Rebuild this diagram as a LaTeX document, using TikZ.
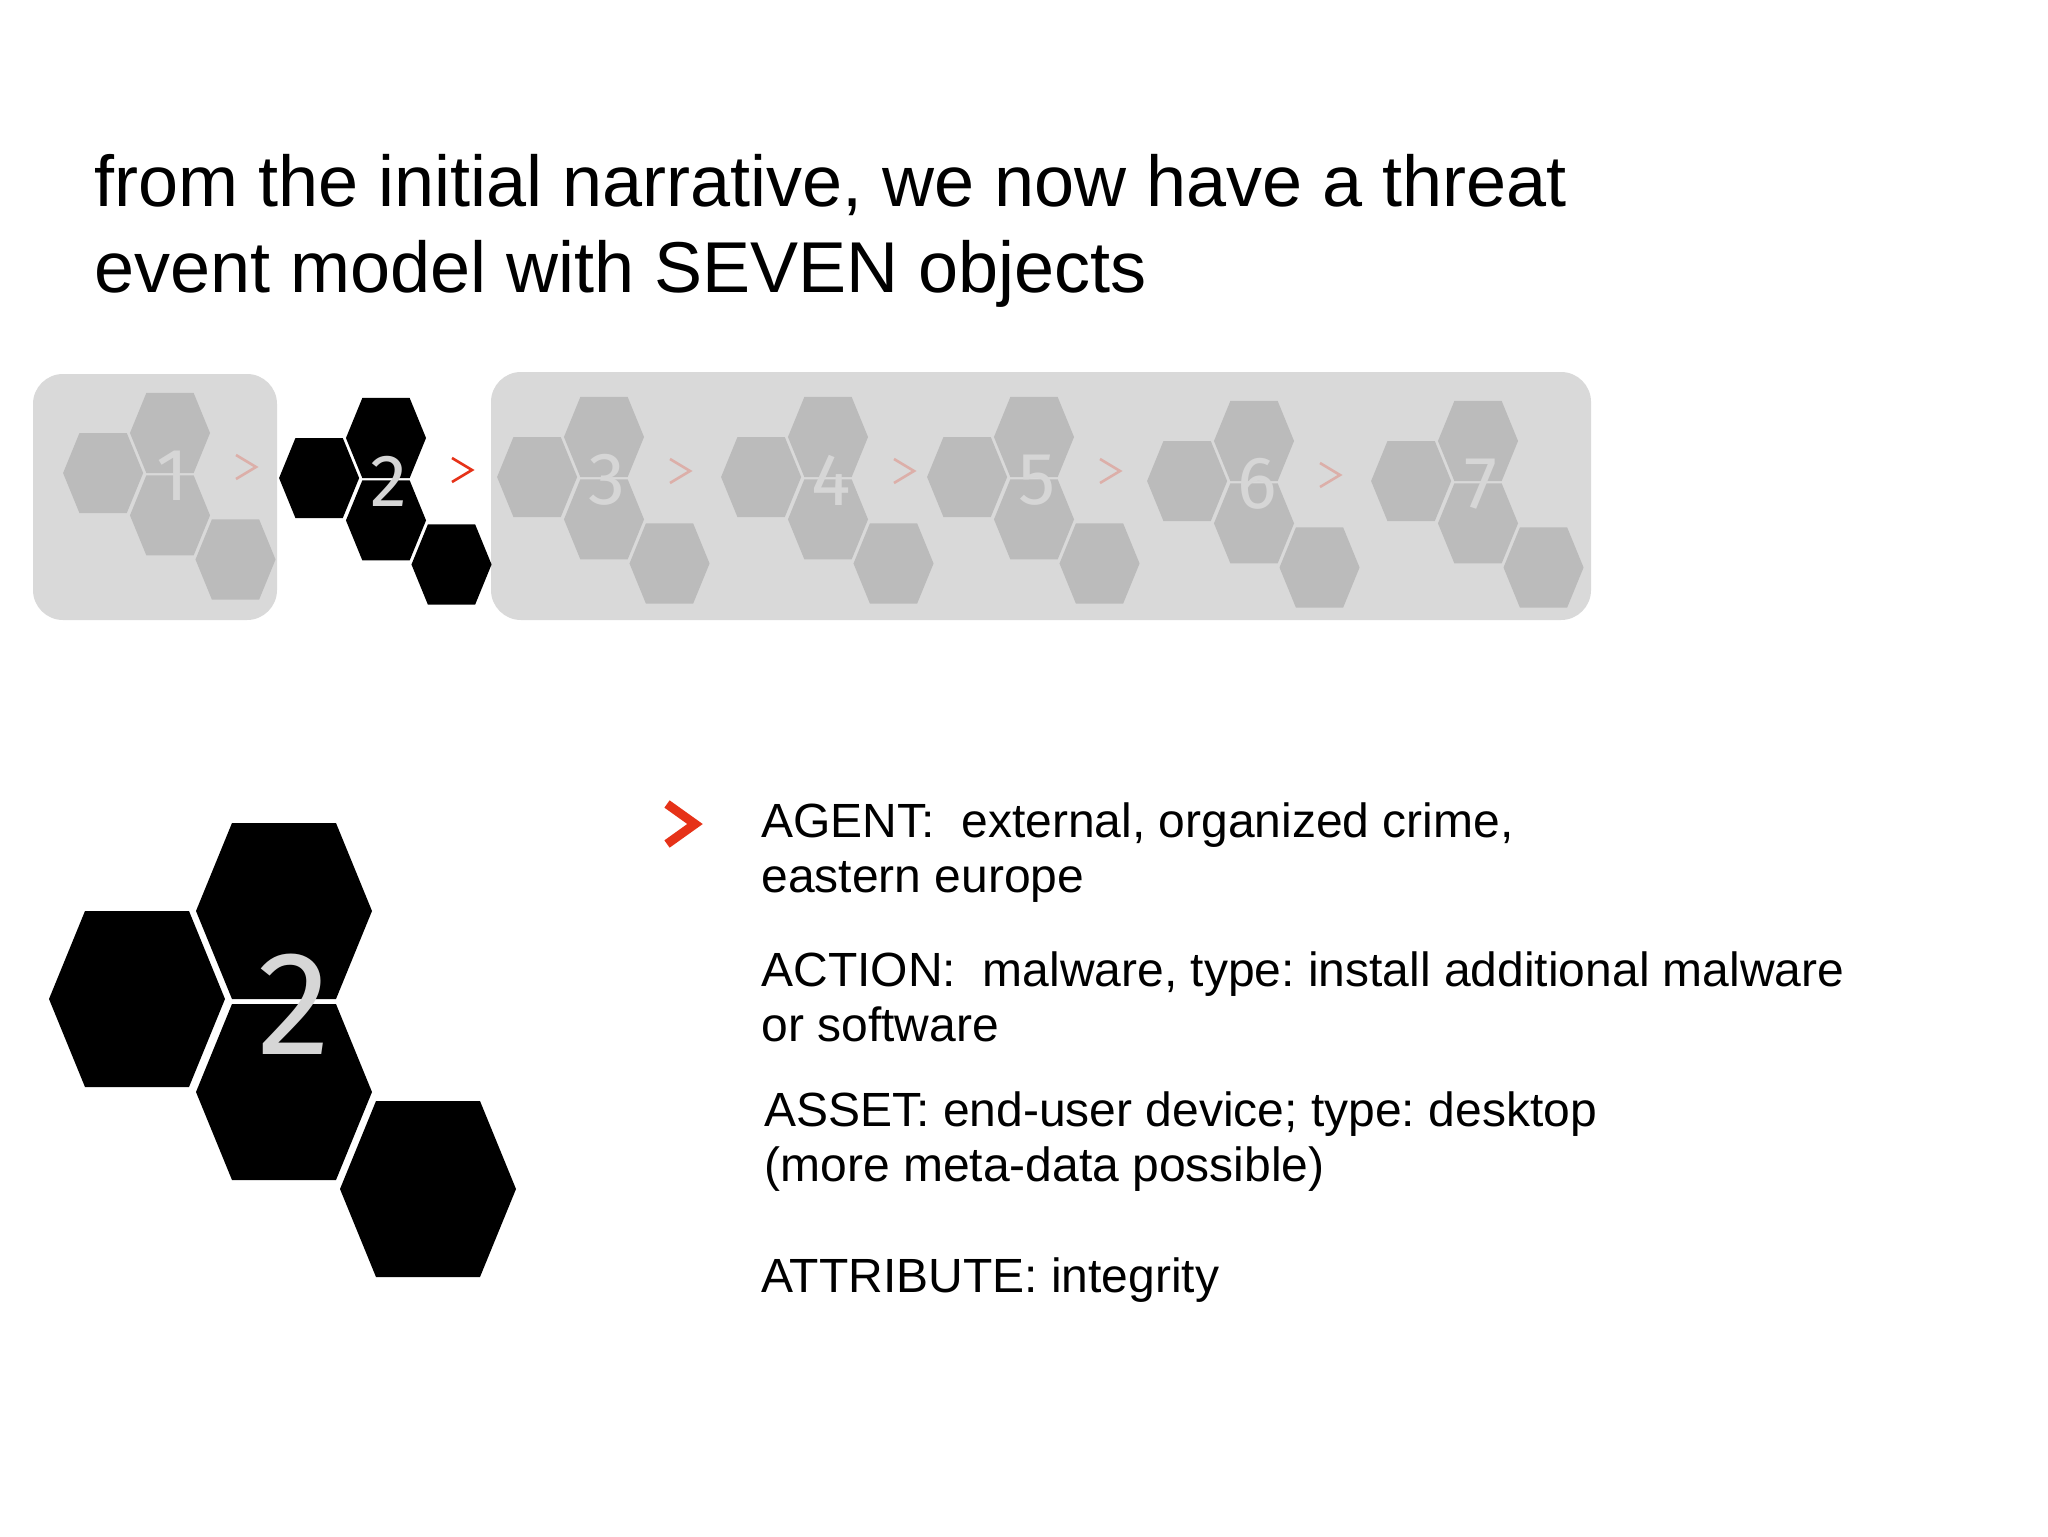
\documentclass[tikz,border=0pt]{standalone}
\usepackage{fontspec}
\setmainfont{Liberation Sans}
\newfontfamily\numfont{Fira Sans}
\frenchspacing

\definecolor{boxgray}{HTML}{D9D9D9}
\definecolor{hexgray}{HTML}{BBBBBB}
\definecolor{numgray}{HTML}{D6D6D6}
\definecolor{alertred}{HTML}{E63218}

\tikzstyle{titletext} = [anchor=base west, inner sep=0, font=\fontsize{36}{43}\selectfont]
\tikzstyle{bodytext} = [anchor=base west, inner sep=0, font=\fontsize{24}{28}\selectfont]
\tikzstyle{hexnum} = [inner sep=0, text=numgray]
\tikzstyle{panel} = [fill=boxgray, rounded corners=15pt]
\tikzstyle{chevron} = [line width=1.3pt, miter limit=10]

% one object = four hexagons, origin at the centre of the top one
\newcommand{\hexgroup}[1]{%
  \foreach \dx/\dy in {0/0, -147/88, 0/181, 144/278}
    \fill[#1] (\dx-88,\dy) -- ++(36,-88) -- ++(104,0) -- ++(36,88) -- ++(-36,88) -- ++(-104,0) -- cycle;}

\begin{document}
\begin{tikzpicture}[x=0.5pt, y=-0.5pt]
\fill[white] (0,0) rectangle (2048,1536);
\useasboundingbox (0,0) rectangle (2048,1536);

\node (title1) [titletext] at (94,206) {from the initial narrative, we now have a threat};
\node (title2) [titletext] at (94,292) {event model with SEVEN objects};

% strip of the seven objects
\fill[panel] (33,374) rectangle (277,620);
\fill[panel] (491,372) rectangle (1591,620);
\foreach \gx/\gy/\n in {170/433/1, 604/437/3, 828/437/4, 1034/437/5, 1254/441/6, 1478/441/7} {
  \begin{scope}[shift={(\gx,\gy)}, scale=0.455]
    \hexgroup{hexgray}
  \end{scope}
  \node (obj\n) [hexnum, font=\numfont\fontsize{37}{37}\selectfont] at (\gx+3,\gy+43) {\n};
}
\begin{scope}[shift={(386,438)}, scale=0.455]
  \hexgroup{black}
\end{scope}
\node (obj2) [hexnum, font=\numfont\fontsize{37}{37}\selectfont] at (389,481) {2};

\foreach \gx/\gy in {170/433, 604/437, 828/437, 1034/437, 1254/441}
  \draw[chevron, alertred!25!boxgray] (\gx+66,\gy+22) -- (\gx+86,\gy+34) -- (\gx+66,\gy+46);
\draw[chevron, alertred] (452,458) -- (472,470) -- (452,482);

% the object in detail
\begin{scope}[shift={(284,911)}]
  \hexgroup{black}
\end{scope}
\node (bignum) [hexnum, font=\numfont\fontsize{74}{74}\selectfont] at (294,1004) {2};

\draw[alertred, line width=4.5pt] (667,804) -- (695,824) -- (667,844);

\node (agent1) [bodytext] at (761,837) {AGENT:~~external, organized crime,};
\node (agent2) [bodytext] at (761,892) {eastern europe};
\node (action1) [bodytext] at (761,986) {ACTION:~~malware, type: install additional malware};
\node (action2) [bodytext] at (761,1041) {or software};
\node (asset1) [bodytext] at (764,1126) {ASSET: end-user device; type: desktop};
\node (asset2) [bodytext] at (764,1181) {(more meta-data possible)};
\node (attr) [bodytext] at (761,1292) {ATTRIBUTE: integrity};
\end{tikzpicture}
\end{document}
